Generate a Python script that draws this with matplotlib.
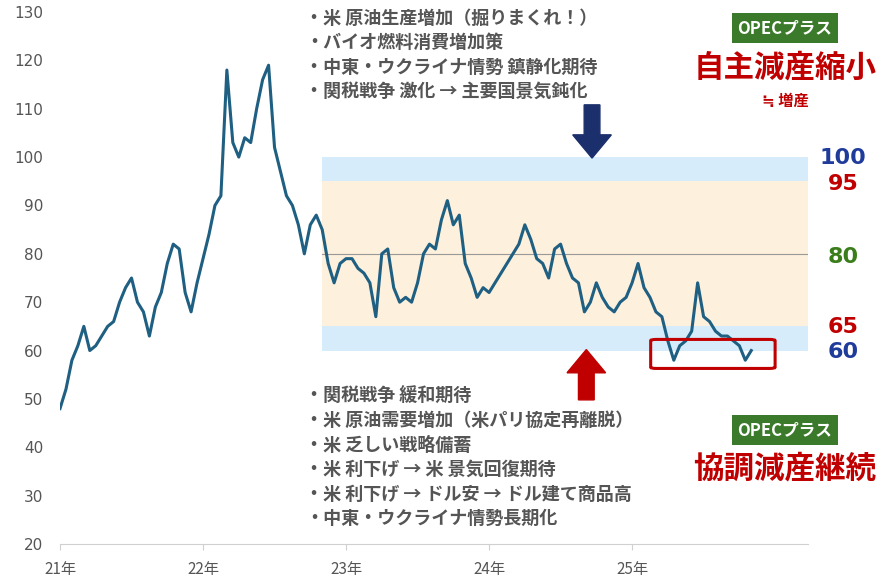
import matplotlib
matplotlib.use("Agg")
import matplotlib.pyplot as plt
from matplotlib.patches import FancyBboxPatch, FancyArrow
import numpy as np

plt.rcParams['font.family'] = ['Noto Sans CJK JP', 'DejaVu Sans']

# semi-monthly WTI-like prices by year
p2021 = [48, 52, 58, 61, 65, 60, 61, 63, 65, 66, 70, 73, 75, 70, 68, 63, 69, 72, 78, 82, 81, 72, 68, 74]
p2022 = [79, 84, 90, 92, 118, 103, 100, 104, 103, 110, 116, 119, 102, 97, 92, 90, 86, 80, 86, 88, 85, 78, 74, 78]
p2023 = [79, 79, 77, 76, 74, 67, 80, 81, 73, 70, 71, 70, 74, 80, 82, 81, 87, 91, 86, 88, 78, 75, 71, 73]
p2024 = [72, 74, 76, 78, 80, 82, 86, 83, 79, 78, 75, 81, 82, 78, 75, 74, 68, 70, 74, 71, 69, 68, 70, 71]
p2025 = [74, 78, 73, 71, 68, 67, 62, 58, 61, 62, 64, 74, 67, 66, 64, 63, 63, 62, 61, 58, 60]
years = [2021, 2022, 2023, 2024, 2025]
series = [p2021, p2022, p2023, p2024, p2025]

dates, prices = [], []
for yr, ps in zip(years, series):
    dates += list((yr - 2000) + np.arange(len(ps)) / 24.0)
    prices += ps

yticks = [20, 30, 40, 50, 60, 70, 80, 90, 100, 110, 120, 130]
xticks = [21, 22, 23, 24, 25]
xlabels = ['21年', '22年', '23年', '24年', '25年']

top_texts = ['・米 原油生産増加（掘りまくれ！）', '・バイオ燃料消費増加策',
             '・中東・ウクライナ情勢 鎮静化期待', '・関税戦争 激化 → 主要国景気鈍化']
bot_texts = ['・関税戦争 緩和期待', '・米 原油需要増加（米パリ協定再離脱）', '・米 乏しい戦略備蓄',
             '・米 利下げ → 米 景気回復期待', '・米 利下げ → ドル安 → ドル建て商品高', '・中東・ウクライナ情勢長期化']

fig = plt.figure(figsize=(8.86, 5.79), dpi=100)
ax = fig.add_axes([60/886, 1-544/579, 748/886, 532/579])
ax.set_xlim(21, 26.23)
ax.set_ylim(20, 130)
x0 = 22.83
ax.fill_between([x0, 26.23], 60, 100, color='#d6ecfa', lw=0, zorder=0)
ax.fill_between([x0, 26.23], 65, 95, color='#fdf0dc', lw=0, zorder=0)
ax.plot([x0, 26.23], [80, 80], color='#999999', lw=0.8, zorder=1)
ax.plot(dates, prices, color='#1f5f82', lw=2.2, zorder=3)

for s in ['top', 'right', 'left']:
    ax.spines[s].set_visible(False)
ax.spines['bottom'].set_color('#d0d0d0')
ax.set_yticks(yticks)
ax.set_xticks(xticks)
ax.set_xticklabels(xlabels)
ax.tick_params(axis='y', length=0, labelsize=11, colors='#555555', pad=12)
ax.tick_params(axis='x', length=4, color='#d0d0d0', labelsize=11, colors='#555555', pad=8)
for lbl in ax.get_yticklabels():
    lbl.set_fontfamily(['DejaVu Sans'])
ax.set_xlim(21, 26.23)

for i, t in enumerate(top_texts):
    fig.text(305/886, 1-(18+24.5*i)/579, t, fontsize=13, fontweight='bold', color='#555555', va='center')
for i, t in enumerate(bot_texts):
    fig.text(305/886, 1-(396+24.5*i)/579, t, fontsize=13, fontweight='bold', color='#555555', va='center')

# arrows
ax.add_patch(FancyArrow(24.72, 110.8, 0, -11.0, width=0.11, head_width=0.27, head_length=4.8,
                        length_includes_head=True, color='#1a2f6b', zorder=4))
ax.add_patch(FancyArrow(24.68, 49.8, 0, 10.4, width=0.11, head_width=0.27, head_length=4.8,
                        length_includes_head=True, color='#c00000', zorder=4))

# red rounded box
ax.add_patch(FancyBboxPatch((25.13, 56.3), 0.87, 6.0, boxstyle='round,pad=0,rounding_size=0.04',
                            fill=False, ec='#c00000', lw=2.2, zorder=5, mutation_aspect=6))

def rl(y, t, c):
    fig.text(843/886, 1-y/579, t, fontsize=16, fontweight='bold', color=c, ha='center', va='center',
             family=['DejaVu Sans'])
rl(158, '100', '#1f3c9a'); rl(184, '95', '#c00000'); rl(257, '80', '#3a7d1a')
rl(327, '65', '#c00000'); rl(352, '60', '#1f3c9a')

for yb in [28, 430]:
    fig.text(785/886, 1-yb/579, 'OPECプラス', fontsize=12, fontweight='bold', color='white',
             ha='center', va='center',
             bbox=dict(boxstyle='square,pad=0.35', fc='#3b7a2a', ec='none'))
fig.text(785/886, 1-67/579, '自主減産縮小', fontsize=22, fontweight='bold', color='#c00000', ha='center', va='center')
fig.text(785/886, 1-101/579, '≒ 増産', fontsize=11, fontweight='bold', color='#c00000', ha='center', va='center')
fig.text(785/886, 1-468/579, '協調減産継続', fontsize=22, fontweight='bold', color='#c00000', ha='center', va='center')

fig.savefig('out.png', dpi=100)
